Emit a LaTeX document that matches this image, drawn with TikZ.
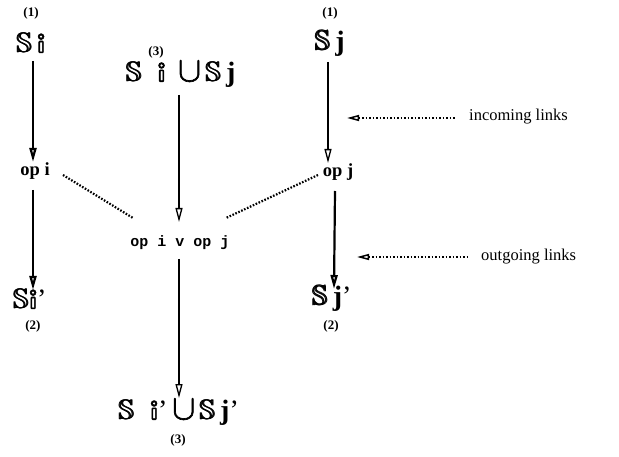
\documentclass[tikz,border=0pt]{standalone}
\usepackage{amsmath,amssymb}
\usepackage{graphicx}
\usepackage{fontspec}
\setmainfont{Liberation Serif}
\newfontfamily\bbf[FakeBold=1.8]{Latin Modern Math}
\newfontfamily\monof{Liberation Mono}
\newcommand{\dsS}{\ensuremath{\pmb{\mathbb{S}}}}
\newcommand{\bigcupsym}{\raisebox{0.02em}{\scalebox{1.25}{\bbf ∪}}}
\usetikzlibrary{arrows.meta,calc}
\begin{document}
\begin{tikzpicture}[x=1pt,y=-1pt,
  setlbl/.style={font=\fontsize{28}{30}\selectfont, inner sep=1pt},
  oplbl/.style={font=\bfseries\fontsize{18.5}{20}\selectfont, inner sep=1pt},
  opmono/.style={font=\monof\bfseries\fontsize{15}{17}\selectfont, inner sep=1pt},
  numlbl/.style={font=\bfseries\fontsize{13}{15}\selectfont, inner sep=1pt},
  txtlbl/.style={font=\fontsize{16.5}{18}\selectfont, inner sep=1pt},
  flow/.style={-{Triangle[open,width=7pt,length=14pt]}, line width=1.3pt},
  flowthick/.style={-{Triangle[open,width=7pt,length=14pt]}, line width=2.2pt},
  dotlink/.style={line width=2.2pt, dash pattern=on 1.6pt off 1.6pt},
  ptr/.style={{Triangle[open,width=6pt,length=12pt]}-, line width=1.5pt, dash pattern=on 1.5pt off 2pt}]
\useasboundingbox (0,0) rectangle (619,457);
% left column
\node[numlbl] (n1i) at (31,13) {(1)};
\node[setlbl] (Si) at (31,43) {\dsS\,{\bbf 𝕚}};
\node[oplbl] (opi) at (35,171) {op i};
\node[setlbl] (Sip) at (30,299) {\dsS{\bbf 𝕚}’};
\node[numlbl] (n2i) at (33,326) {(2)};
% middle column
\node[numlbl] (n3a) at (156,52) {(3)};
\node[setlbl] (SiSj) at (181,74) {\dsS\;\;{\bbf 𝕚}\;\,\bigcupsym\,\dsS\,\textbf{j}};
\node[opmono] (opij) at (180,243) {op i v op j};
\node[setlbl] (SpSp) at (179,412) {\dsS\;\;{\bbf 𝕚}’\,\bigcupsym\,\dsS\,\textbf{j}’};
\node[numlbl] (n3b) at (178,440) {(3)};
% right column
\node[numlbl] (n1j) at (330,13) {(1)};
\node[setlbl] (Sj) at (330,43) {\dsS\,\textbf{j}};
\node[oplbl] (opj) at (338,172) {op j};
\node[setlbl] (Sjp) at (332,298) {\dsS\,\textbf{j}’};
\node[numlbl] (n2j) at (331,326) {(2)};
% annotations
\node[txtlbl, anchor=west] (inc) at (468,117) {incoming links};
\node[txtlbl, anchor=west] (outg) at (480,257) {outgoing links};
% coordinates
\coordinate (aiTop) at (33,61);
\coordinate (aiTip) at (33,162);
\coordinate (biTop) at (33,190);
\coordinate (biTip) at (33,290);
\coordinate (amTop) at (179,95);
\coordinate (amTip) at (179,222);
\coordinate (bmTop) at (179,259);
\coordinate (bmTip) at (179,398);
\coordinate (ajTop) at (328,62);
\coordinate (ajTip) at (328,163);
\coordinate (bjTop) at (335,191);
\coordinate (bjTip) at (334,289);
\coordinate (dlA) at (63,175);
\coordinate (dlB) at (133,218);
\coordinate (drA) at (318,175);
\coordinate (drB) at (226,218);
\coordinate (incTip) at (347,118);
\coordinate (incEnd) at (456,118);
\coordinate (outTip) at (357,257);
\coordinate (outEnd) at (468,257);
% connectors
\draw[flowthick] (aiTop) -- (aiTip);
\draw[flowthick] (biTop) -- (biTip);
\draw[flow] (amTop) -- (amTip);
\draw[flow] (bmTop) -- (bmTip);
\draw[flow] (ajTop) -- (ajTip);
\draw[flowthick] (bjTop) -- (bjTip);
\draw[dotlink] (dlA) -- (dlB);
\draw[dotlink] (drA) -- (drB);
\draw[ptr] (incTip) -- (incEnd);
\draw[ptr] (outTip) -- (outEnd);
\end{tikzpicture}
\end{document}
